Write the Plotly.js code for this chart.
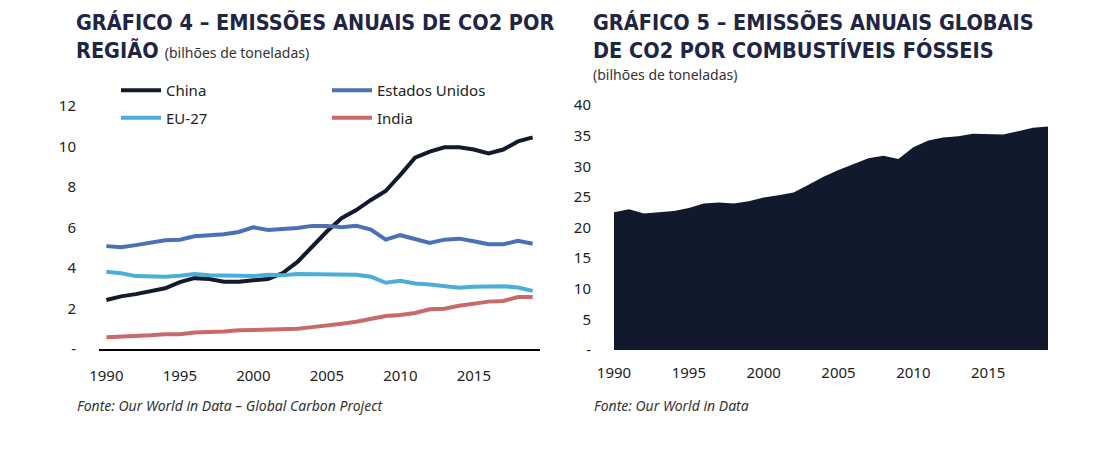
<!DOCTYPE html>
<html>
<head>
<meta charset="utf-8">
<script src="https://cdn.plot.ly/plotly-3.0.1.min.js"></script>
<style>html,body{margin:0;padding:0;background:#fff;}#chart{width:1093px;height:450px;}</style>
</head>
<body>
<div id="chart"></div>
<script>
const years = [1990,1991,1992,1993,1994,1995,1996,1997,1998,1999,2000,2001,2002,2003,2004,2005,2006,2007,2008,2009,2010,2011,2012,2013,2014,2015,2016,2017,2018,2019];
const china = [2.42,2.6,2.71,2.85,3.0,3.3,3.5,3.46,3.32,3.32,3.41,3.46,3.75,4.3,5.05,5.8,6.46,6.86,7.36,7.8,8.6,9.45,9.75,9.96,9.96,9.85,9.66,9.85,10.25,10.45];
const usa = [5.08,5.02,5.13,5.24,5.37,5.4,5.57,5.62,5.67,5.78,6.01,5.88,5.93,5.98,6.08,6.08,6.01,6.08,5.9,5.4,5.62,5.45,5.24,5.4,5.45,5.32,5.17,5.17,5.34,5.2];
const eu27 = [3.82,3.74,3.6,3.57,3.57,3.62,3.7,3.64,3.64,3.6,3.6,3.67,3.64,3.7,3.7,3.7,3.7,3.67,3.57,3.27,3.37,3.24,3.19,3.12,3.02,3.07,3.1,3.1,3.04,2.87];
const india = [0.58,0.6,0.63,0.68,0.73,0.73,0.81,0.82,0.86,0.92,0.95,0.96,0.99,1.0,1.08,1.15,1.25,1.35,1.47,1.63,1.68,1.78,1.96,1.99,2.14,2.24,2.34,2.37,2.57,2.57];
const world = [22.5,23.0,22.3,22.5,22.7,23.2,23.9,24.1,23.9,24.3,24.9,25.25,25.7,27.0,28.3,29.4,30.4,31.3,31.7,31.2,33.1,34.2,34.7,34.9,35.3,35.2,35.2,35.7,36.3,36.5];

const xTickVals = [1990,1995,2000,2005,2010,2015];
const xTickText = ['1990','1995','2000','2005','2010','2015'];
const yTickVals1 = [0,2,4,6,8,10,12];
const yTickText1 = ['-','2','4','6','8','10','12'];
const yTickVals2 = [0,5,10,15,20,25,30,35,40];
const yTickText2 = ['-','5','10','15','20','25','30','35','40'];

const W = 1093, H = 450;
const tickFont = {family: 'Noto Sans, sans-serif', size: 15, color: '#222'};
const titleFont = {family: '"Liberation Sans Narrow", "DejaVu Sans Condensed", sans-serif', size: 21.5, color: '#1f2544'};

function line(name, y, color, legend, group) {
  return {x: years, y: y, name: name, type: 'scatter', mode: 'lines',
    line: {color: color, width: 4}, xaxis: 'x', yaxis: 'y',
    legend: legend, legendgroup: group, hoverinfo: 'skip'};
}

const data = [
  line('China', china, '#131a2e', 'legend', 'a'),
  line('Estados Unidos', usa, '#4b70b8', 'legend2', 'c'),
  line('EU-27', eu27, '#4aaed8', 'legend', 'b'),
  line('India', india, '#c86a6c', 'legend2', 'd'),
  {x: years, y: world, type: 'scatter', mode: 'lines', fill: 'tozeroy',
   fillcolor: '#111a2c', line: {color: '#111a2c', width: 0}, xaxis: 'x2', yaxis: 'y2',
   showlegend: false, hoverinfo: 'skip'}
];

const legendBase = {orientation: 'v', xanchor: 'left', yanchor: 'top',
  font: {family: 'Noto Sans, sans-serif', size: 15, color: '#222'},
  bgcolor: 'rgba(0,0,0,0)', traceorder: 'grouped', tracegroupgap: 5, itemwidth: 40};

const layout = {
  width: W, height: H,
  margin: {l: 0, r: 0, t: 0, b: 0},
  paper_bgcolor: '#fff', plot_bgcolor: '#fff',
  xaxis: {domain: [99/W, 540/W], range: [1989.5, 2019.5], tickvals: xTickVals, ticktext: xTickText,
    showgrid: false, zeroline: false, showline: true, linecolor: '#000', linewidth: 1.5,
    ticks: '', ticklabelstandoff: 12, tickfont: tickFont, fixedrange: true},
  yaxis: {domain: [(H-349)/H, (H-106)/H], range: [0, 12], tickvals: yTickVals1, ticktext: yTickText1,
    showgrid: false, zeroline: false, showline: false, ticks: '', ticklabelstandoff: 22,
    tickfont: tickFont, fixedrange: true},
  xaxis2: {domain: [614/W, 1048/W], range: [1990, 2019], tickvals: xTickVals, ticktext: xTickText,
    showgrid: false, zeroline: false, showline: false, ticks: '', ticklabelstandoff: 12,
    tickfont: tickFont, anchor: 'y2', fixedrange: true},
  yaxis2: {domain: [(H-350)/H, (H-105)/H], range: [0, 40], tickvals: yTickVals2, ticktext: yTickText2,
    showgrid: false, zeroline: false, showline: false, ticks: '', ticklabelstandoff: 22,
    tickfont: tickFont, anchor: 'x2', fixedrange: true},
  legend: Object.assign({x: 116/W, y: 1 - 74/H}, legendBase),
  legend2: Object.assign({x: 327/W, y: 1 - 74/H}, legendBase),
  showlegend: true,
  annotations: [
    {xref: 'paper', yref: 'paper', x: 74/W, y: 1 - 8/H, xanchor: 'left', yanchor: 'top', align: 'left',
     showarrow: false, font: titleFont,
     text: '<b>GRÁFICO 4 – EMISSÕES ANUAIS DE CO2 POR<br>REGIÃO</b> <span style="font-family:Noto Sans;font-size:14px;color:#333">(bilhões de toneladas)</span>'},
    {xref: 'paper', yref: 'paper', x: 591/W, y: 1 - 8/H, xanchor: 'left', yanchor: 'top', align: 'left',
     showarrow: false, font: titleFont,
     text: '<b>GRÁFICO 5 – EMISSÕES ANUAIS GLOBAIS<br>DE CO2 POR COMBUSTÍVEIS FÓSSEIS</b>'},
    {xref: 'paper', yref: 'paper', x: 591/W, y: 1 - 75/H, xanchor: 'left', yanchor: 'middle', align: 'left',
     showarrow: false, font: {family: 'Noto Sans, sans-serif', size: 14, color: '#333'},
     text: '(bilhões de toneladas)'},
    {xref: 'paper', yref: 'paper', x: 75/W, y: 1 - 405/H, xanchor: 'left', yanchor: 'middle', align: 'left',
     showarrow: false, font: {family: 'Noto Sans, sans-serif', size: 14, color: '#333'},
     text: '<i>Fonte: Our World in Data – Global Carbon Project</i>'},
    {xref: 'paper', yref: 'paper', x: 592/W, y: 1 - 405/H, xanchor: 'left', yanchor: 'middle', align: 'left',
     showarrow: false, font: {family: 'Noto Sans, sans-serif', size: 14, color: '#333'},
     text: '<i>Fonte: Our World in Data</i>'}
  ]
};

Plotly.newPlot('chart', data, layout, {displayModeBar: false, staticPlot: true});
</script>
</body>
</html>
